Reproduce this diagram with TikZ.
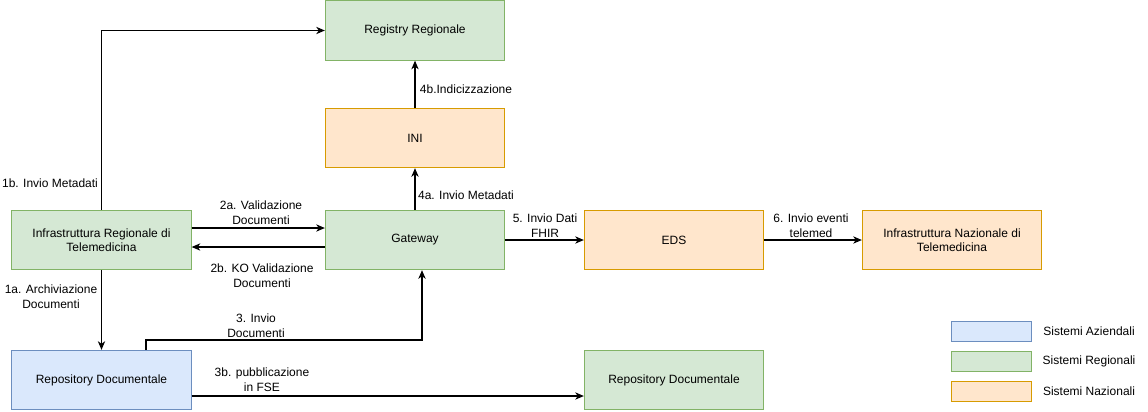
\documentclass[tikz,border=0pt]{standalone}
\usepackage{fontspec}
\setmainfont{Liberation Sans}
\usetikzlibrary{arrows.meta}
\definecolor{gfill}{HTML}{D5E8D4}
\definecolor{gdraw}{HTML}{82B366}
\definecolor{ofill}{HTML}{FFE6CC}
\definecolor{odraw}{HTML}{D79B00}
\definecolor{bfill}{HTML}{DAE8FC}
\definecolor{bdraw}{HTML}{6C8EBF}
\tikzset{
  box/.style={draw, line width=0.75pt, minimum width=134.5pt, minimum height=44.5pt, inner sep=0pt, align=center, font=\fontsize{9}{10.8}\selectfont},
  gbox/.style={box, fill=gfill, draw=gdraw},
  obox/.style={box, fill=ofill, draw=odraw},
  bbox/.style={box, fill=bfill, draw=bdraw},
  lbox/.style={draw, line width=0.75pt, minimum width=60pt, minimum height=15pt, inner sep=0pt},
  lbl/.style={align=center, inner sep=0pt, font=\fontsize{9}{11.25}\selectfont},
  arr/.style={line width=0.8pt, -{Stealth[length=6.5pt,width=5.5pt,inset=2pt]}},
}
\begin{document}
\begin{tikzpicture}[x=0.75pt,y=-0.75pt]
\useasboundingbox (0,0) rectangle (1148,411);
\node[gbox] (reg) at (415,30.5) {Registry Regionale};
\node[obox] (ini) at (415,138) {INI};
\node[gbox] (gw) at (415,240) {Gateway};
\node[gbox] (infra) at (101.5,240) {Infrastruttura Regionale di\\Telemedicina};
\node[bbox] (repA) at (101.5,380) {Repository Documentale};
\node[gbox] (repB) at (674,380) {Repository Documentale};
\node[obox] (eds) at (674,240) {EDS};
\node[obox] (naz) at (952,240) {Infrastruttura Nazionale di\\Telemedicina};
% legend
\node[lbox, fill=bfill, draw=bdraw] (la) at (991,331) {};
\node[lbox, fill=gfill, draw=gdraw] (lr) at (991,361.5) {};
\node[lbox, fill=ofill, draw=odraw] (ln) at (991,391.5) {};
\node[lbl] (tla) at (1089,331) {Sistemi Aziendali};
\node[lbl] (tlr) at (1089,361.5) {Sistemi Regionali};
\node[lbl] (tln) at (1089,391.5) {Sistemi Nazionali};
% connectors
\draw[arr] (infra.north) |- (reg.west);
\node[lbl] (l1b) at (50,183) {1b. Invio Metadati};
\draw[arr] (infra.south) -- (repA.north);
\node[lbl] (l1a) at (51,297) {1a. Archiviazione\\Documenti};
\draw[arr] ([yshift=9pt]infra.east) -- ([yshift=9pt]gw.west);
\node[lbl] (l2a) at (261,213) {2a. Validazione\\Documenti};
\draw[arr] ([yshift=-5.25pt]gw.west) -- ([yshift=-5.25pt]infra.east);
\node[lbl] (l2b) at (262,276) {2b. KO Validazione\\Documenti};
\coordinate (c3) at (146,340);
\draw[arr] (repA.north -| c3) -- (c3) -| ([xshift=5.25pt]gw.south);
\node[lbl] (l3) at (256,326) {3. Invio\\Documenti};
\draw[arr] ([yshift=-12pt]repA.east) -- ([yshift=-12pt]repB.west);
\node[lbl] (l3b) at (262,380) {3b. pubblicazione\\in FSE};
\draw[arr] (gw.north) -- (ini.south);
\node[lbl] (l4a) at (466,195) {4a. Invio Metadati};
\draw[arr] (ini.north) -- (reg.south);
\node[lbl] (l4b) at (466,89) {4b.Indicizzazione};
\draw[arr] (gw.east) -- (eds.west);
\node[lbl] (l5) at (545,226) {5. Invio Dati\\FHIR};
\draw[arr] (eds.east) -- (naz.west);
\node[lbl] (l6) at (811,226) {6. Invio eventi\\telemed};
\end{tikzpicture}
\end{document}
